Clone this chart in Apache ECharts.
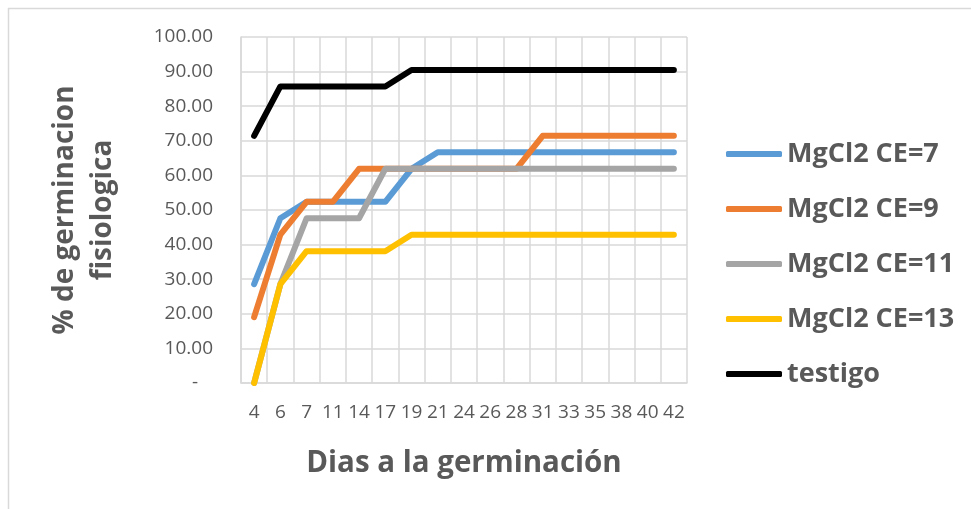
<!DOCTYPE html>
<html>
<head>
<meta charset="utf-8">
<script src="https://cdn.jsdelivr.net/npm/echarts@6/dist/echarts.min.js"></script>
<style>
  html, body { margin: 0; padding: 0; background: #fff; }
  #chart { width: 971px; height: 509px; }
</style>
</head>
<body>
<div id="chart"></div>
<script>
// dias a la germinacion
const dias = ['4', '6', '7', '11', '14', '17', '19', '21', '24', '26', '28', '31', '33', '35', '38', '40', '42'];

// % de germinacion fisiologica por tratamiento
const ce7 = [28.57, 47.62, 52.38, 52.38, 52.38, 52.38, 61.90, 66.67, 66.67, 66.67, 66.67, 66.67, 66.67, 66.67, 66.67, 66.67, 66.67];
const ce9 = [19.05, 42.86, 52.38, 52.38, 61.90, 61.90, 61.90, 61.90, 61.90, 61.90, 61.90, 71.43, 71.43, 71.43, 71.43, 71.43, 71.43];
const ce11 = [0, 28.57, 47.62, 47.62, 47.62, 61.90, 61.90, 61.90, 61.90, 61.90, 61.90, 61.90, 61.90, 61.90, 61.90, 61.90, 61.90];
const ce13 = [0, 28.57, 38.10, 38.10, 38.10, 38.10, 42.86, 42.86, 42.86, 42.86, 42.86, 42.86, 42.86, 42.86, 42.86, 42.86, 42.86];
const testigo = [71.43, 85.71, 85.71, 85.71, 85.71, 85.71, 90.48, 90.48, 90.48, 90.48, 90.48, 90.48, 90.48, 90.48, 90.48, 90.48, 90.48];

const nombres = ['MgCl2 CE=7', 'MgCl2 CE=9', 'MgCl2 CE=11', 'MgCl2 CE=13', 'testigo'];
const colores = ['#5B9BD5', '#ED7D31', '#A5A5A5', '#FFC000', '#000000'];

const font = '"Open Sans", "Liberation Sans", sans-serif';
const gris = '#595959';

const chart = echarts.init(document.getElementById('chart'));

function serie(nombre, datos, color) {
  return {
    name: nombre,
    type: 'line',
    data: datos,
    symbol: 'none',
    color: color,
    lineStyle: { width: 6, color: color, cap: 'round', join: 'round' }
  };
}

chart.setOption({
  animation: false,
  backgroundColor: '#fff',
  graphic: [{
    type: 'rect',
    shape: { x: 8.5, y: 8.5, width: 1000, height: 600 },
    style: { fill: 'none', stroke: '#d9d9d9', lineWidth: 1.5 },
    silent: true
  }],
  grid: { left: 241, top: 37, right: 284, bottom: 126 },
  legend: {
    orient: 'vertical',
    left: 721,
    top: 134,
    itemGap: 25,
    itemWidth: 56,
    itemHeight: 6,
    icon: 'roundRect',
    data: nombres,
    textStyle: { fontFamily: font, fontSize: 27, fontWeight: 'bold', color: gris, lineHeight: 30 }
  },
  xAxis: {
    type: 'category',
    data: dias,
    boundaryGap: true,
    name: 'Dias a la germinación',
    nameLocation: 'middle',
    nameGap: 66,
    nameTextStyle: { fontFamily: font, fontSize: 29.5, fontWeight: 'bold', color: gris },
    axisLine: { show: true, lineStyle: { color: '#d9d9d9', width: 1.5 } },
    axisTick: { show: false },
    axisLabel: { interval: 0, margin: 20, fontFamily: font, fontSize: 19, color: gris },
    splitLine: { show: true, lineStyle: { color: '#d9d9d9', width: 1.5 } }
  },
  yAxis: {
    type: 'value',
    min: 0,
    max: 100,
    interval: 10,
    name: '% de germinacion\nfisiologica',
    nameLocation: 'middle',
    nameGap: 119,
    nameTextStyle: { fontFamily: font, fontSize: 28, fontWeight: 'bold', color: gris, lineHeight: 38 },
    axisLine: { show: true, lineStyle: { color: '#d9d9d9', width: 1.5 } },
    axisTick: { show: false },
    axisLabel: {
      margin: 28,
      fontFamily: font,
      fontSize: 19,
      color: gris,
      formatter: v => v === 0 ? '-   ' : v.toFixed(2)
    },
    splitLine: { show: true, lineStyle: { color: '#d9d9d9', width: 1.5 } }
  },
  series: [
    serie(nombres[0], ce7, colores[0]),
    serie(nombres[1], ce9, colores[1]),
    serie(nombres[2], ce11, colores[2]),
    serie(nombres[3], ce13, colores[3]),
    serie(nombres[4], testigo, colores[4])
  ]
});
</script>
</body>
</html>
